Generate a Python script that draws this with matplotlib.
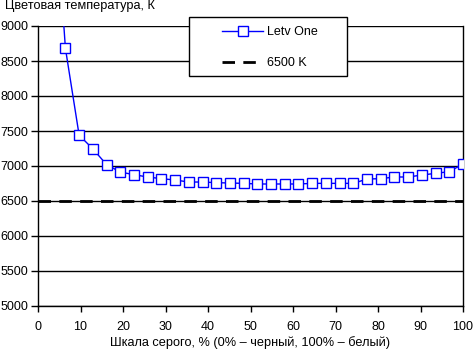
import matplotlib.pyplot as plt
from matplotlib.patches import Rectangle

# grey level steps: k*100/31, k = 1..31 (k=1 is above the visible range)
steps = list(range(1, 32))
temps = [11500, 8680, 7440, 7245, 7020, 6914, 6876, 6843, 6819, 6800,
         6771, 6771, 6762, 6757, 6752, 6743, 6743, 6743, 6743, 6752,
         6752, 6752, 6752, 6814, 6819, 6843, 6843, 6871, 6895, 6919,
         7029]
ref_x = [0, 100]
ref_y = [6500, 6500]

x_ticks = list(range(0, 101, 10))
y_ticks = list(range(5000, 9001, 500))

plt.rcParams['font.family'] = ['Liberation Sans', 'DejaVu Sans']

fig = plt.figure(figsize=(4.73, 3.49), dpi=100)
ax = fig.add_axes([38 / 473, 1 - 306 / 349, 425 / 473, 280 / 349])

gray = [k * 100 / 31 for k in steps]
ax.plot(ref_x, ref_y, color='black', lw=2, dashes=(4.5, 3), label='6500 K', zorder=2)
ax.plot(gray, temps, color='#0000ff', lw=1, marker='s', ms=7, mfc='white',
        mec='#0000ff', mew=1, label='Letv One', zorder=3)

ax.set_xlim(0, 100)
ax.set_ylim(5000, 9000)
ax.set_xticks(x_ticks)
ax.set_yticks(y_ticks)
ax.grid(axis='y', color='black', lw=1)
ax.set_axisbelow(True)
for s in ax.spines.values():
    s.set_linewidth(1)
ax.spines['top'].set_visible(False)
ax.tick_params(axis='both', direction='out', length=4, width=1, labelsize=9, pad=2)
ax.tick_params(axis='x', pad=7)
ax.tick_params(axis='y', length=5)

ax.set_xlabel('Шкала серого, % (0% – черный, 100% – белый)', fontsize=9.2, labelpad=2)
fig.text(5 / 473, 1 - 6 / 349, 'Цветовая температура, К', fontsize=9.2, va='center', ha='left')

# legend box
fig.patches.append(Rectangle((189 / 473, 1 - 76 / 349), 158 / 473, 59 / 349,
                             transform=fig.transFigure, fill=True, facecolor='white',
                             edgecolor='black', lw=1, zorder=5))
h, l = ax.get_legend_handles_labels()
leg = fig.legend(h[::-1], l[::-1], loc='upper left', bbox_to_anchor=(222 / 473, 1 - 26 / 349),
                 frameon=False, fontsize=9, borderpad=0, handlelength=3.3,
                 handletextpad=0.3, labelspacing=1.55, borderaxespad=0)
leg.set_zorder(6)

fig.savefig('out.png', dpi=100)
